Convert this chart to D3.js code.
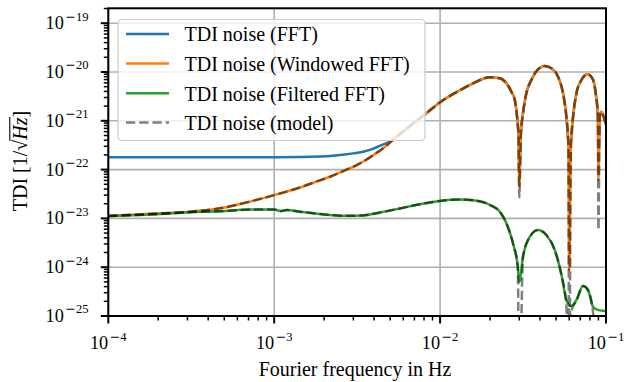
<!DOCTYPE html>
<html><head><meta charset="utf-8">
<script src="https://cdn.jsdelivr.net/npm/d3@7"></script>
<style>body{margin:0;background:#fff} svg{display:block}</style>
</head><body><svg id="c" width="626" height="382"></svg>
<script>
// ---------- data ----------
const freqMain = [1e-4, 2.05e-4, 3.1e-4, 4.7e-4, 7.1e-4, 1e-3, 1.43e-3, 1.88e-3, 2.17e-3, 2.73e-3,
  2.98e-3, 3.42e-3, 3.93e-3, 4.14e-3, 4.75e-3, 4.98e-3, 6.28e-3, 8.28e-3, 9.95e-3, 1.31e-2,
  1.58e-2, 2.0e-2, 2.29e-2, 2.51e-2, 2.69e-2, 2.82e-2, 2.91e-2, 2.97e-2, 3.0e-2, 3.07e-2,
  3.16e-2, 3.31e-2, 3.55e-2, 3.89e-2, 4.27e-2, 4.69e-2, 5.14e-2, 5.51e-2, 5.77e-2, 5.93e-2,
  6.0e-2, 6.15e-2, 6.33e-2, 6.63e-2, 7.11e-2, 7.73e-2, 8.28e-2, 8.67e-2, 8.94e-2, 9.0e-2,
  9.17e-2, 9.38e-2, 9.6e-2, 1e-1];
const fftVals = [1.79e-22, 1.79e-22, 1.79e-22, 1.79e-22, 1.8e-22, 1.8e-22, 1.82e-22, 1.86e-22, 1.9e-22, 2.06e-22,
  2.15e-22, 2.33e-22, 2.65e-22, 2.87e-22, 3.5e-22, 3.75e-22, 6.9e-22, 1.43e-21, 2.37e-21, 4.18e-21,
  5.86e-21, 7.78e-21, 7.43e-21, 5.86e-21, 3.95e-21, 2.67e-21, 1.21e-21, 4.72e-22, 8e-23, 5.5e-22,
  1.43e-21, 3.66e-21, 6.85e-21, 1.13e-20, 1.33e-20, 1.19e-20, 8.0e-21, 3.66e-21, 1.21e-21, 3.6e-22,
  2.5e-22, 3.6e-22, 1.21e-21, 3.66e-21, 6.85e-21, 8.97e-21, 7.4e-21, 3.66e-21, 1.21e-21, 1.5e-22,
  1.21e-21, 1.53e-21, 1.31e-21, 8.2e-22];
const windowedVals = [1.12e-23, 1.27e-23, 1.37e-23, 1.61e-23, 2.2e-23, 3.0e-23, 4.3e-23, 6.0e-23, 7.15e-23, 1.0e-22,
  1.13e-22, 1.45e-22, 1.95e-22, 2.2e-22, 3.1e-22, 3.6e-22, 6.9e-22, 1.43e-21, 2.37e-21, 4.18e-21,
  5.86e-21, 7.78e-21, 7.43e-21, 5.86e-21, 3.95e-21, 2.67e-21, 1.21e-21, 4.72e-22, 4.5e-23, 5.5e-22,
  1.43e-21, 3.66e-21, 6.85e-21, 1.13e-20, 1.33e-20, 1.19e-20, 8.0e-21, 3.66e-21, 1.21e-21, 3.46e-22,
  8.8e-25, 3.46e-22, 1.21e-21, 3.66e-21, 6.85e-21, 8.97e-21, 7.4e-21, 3.66e-21, 1.21e-21, 6.1e-23,
  1.21e-21, 1.53e-21, 1.31e-21, 8.2e-22];
const modelVals = [1.12e-23, 1.27e-23, 1.37e-23, 1.61e-23, 2.2e-23, 3.0e-23, 4.3e-23, 6.0e-23, 7.15e-23, 1.0e-22,
  1.13e-22, 1.45e-22, 1.95e-22, 2.2e-22, 3.1e-22, 3.6e-22, 6.9e-22, 1.43e-21, 2.37e-21, 4.18e-21,
  5.86e-21, 7.78e-21, 7.43e-21, 5.86e-21, 3.95e-21, 2.67e-21, 1.21e-21, 4.72e-22, 2.7e-23, 5.5e-22,
  1.43e-21, 3.66e-21, 6.85e-21, 1.13e-20, 1.33e-20, 1.19e-20, 8.0e-21, 3.66e-21, 1.21e-21, 3.46e-22,
  1e-27, 3.46e-22, 1.21e-21, 3.66e-21, 6.85e-21, 8.97e-21, 7.4e-21, 3.66e-21, 1.21e-21, 5.8e-24,
  1.21e-21, 1.53e-21, 1.31e-21, 8.2e-22];

const freqFilt = [1e-4, 2.05e-4, 3.57e-4, 4.7e-4, 7.1e-4, 1e-3, 1.09e-3, 1.19e-3, 1.43e-3, 1.88e-3,
  2.73e-3, 3.4e-3, 4.34e-3, 5.72e-3, 7.55e-3, 9.95e-3, 1.31e-2, 1.58e-2, 2.0e-2, 2.29e-2,
  2.51e-2, 2.75e-2, 2.94e-2, 3.0e-2, 3.16e-2, 3.39e-2, 3.89e-2, 4.37e-2, 4.91e-2, 5.39e-2,
  5.77e-2, 6.0e-2, 6.19e-2, 6.63e-2, 7.27e-2, 7.8e-2, 8.35e-2, 8.95e-2, 9.0e-2, 9.83e-2, 1e-1];
const filteredVals = [1.12e-23, 1.23e-23, 1.37e-23, 1.4e-23, 1.52e-23, 1.53e-23, 1.41e-23, 1.48e-23, 1.37e-23, 1.23e-23,
  1.13e-23, 1.15e-23, 1.32e-23, 1.6e-23, 1.95e-23, 2.28e-23, 2.44e-23, 2.35e-23, 1.88e-23, 1.37e-23,
  7.94e-24, 3.09e-24, 1.02e-24, 5.0e-25, 1.64e-24, 3.6e-24, 5.8e-24, 4.57e-24, 2.25e-24, 6.9e-25,
  2.13e-25, 1.65e-25, 1.6e-25, 2.13e-25, 4.12e-25, 3.41e-25, 1.55e-25, 1.33e-25, 1.32e-25, 1.27e-25, 1.26e-25];
const modelFiltVals = [1.12e-23, 1.23e-23, 1.37e-23, 1.4e-23, 1.52e-23, 1.53e-23, 1.41e-23, 1.48e-23, 1.37e-23, 1.23e-23,
  1.13e-23, 1.15e-23, 1.32e-23, 1.6e-23, 1.95e-23, 2.28e-23, 2.44e-23, 2.35e-23, 1.88e-23, 1.37e-23,
  7.94e-24, 3.09e-24, 1.02e-24, 1e-27, 1.64e-24, 3.6e-24, 5.8e-24, 4.57e-24, 2.25e-24, 6.9e-25,
  1.6e-25, 1e-27, 1.3e-25, 2.05e-25, 4.12e-25, 3.3e-25, 1.2e-25, 1e-27, 1e-27, 1e-27, 1e-27];

const xTicks = [1e-4, 1e-3, 1e-2, 1e-1];
const xTickExp = ["4", "3", "2", "1"];
const yTicks = [1e-25, 1e-24, 1e-23, 1e-22, 1e-21, 1e-20, 1e-19];
const yTickExp = ["25", "24", "23", "22", "21", "20", "19"];
const legendLabels = ["TDI noise (FFT)", "TDI noise (Windowed FFT)", "TDI noise (Filtered FFT)", "TDI noise (model)"];
const xTitle = "Fourier frequency in Hz";

// ---------- drawing ----------
const svg = d3.select("#c");
const m = {l: 108.3, r: 606, t: 8.3, b: 316};
const x = d3.scaleLog().domain([1e-4, 1e-1]).range([m.l, m.r]);
const y = d3.scaleLog().domain([1e-25, 2.02e-19]).range([m.b, m.t]);
const SERIF = "'Liberation Serif','Times New Roman',serif";
const colors = ["#1f77b4", "#ff7f0e", "#2ca02c"];

svg.append("defs").append("clipPath").attr("id", "clip")
  .append("rect").attr("x", m.l).attr("y", m.t).attr("width", m.r - m.l).attr("height", m.b - m.t);

// grid
const grid = svg.append("g").attr("stroke", "#b0b0b0").attr("stroke-width", 1.6);
xTicks.forEach(t => grid.append("line").attr("x1", x(t)).attr("x2", x(t)).attr("y1", m.t).attr("y2", m.b));
yTicks.forEach(t => grid.append("line").attr("x1", m.l).attr("x2", m.r).attr("y1", y(t)).attr("y2", y(t)));

// lines
const plot = svg.append("g").attr("clip-path", "url(#clip)");
const line = d3.line().x(d => x(d[0])).y(d => y(d[1])).curve(d3.curveMonotoneX);
const zip = (f, v) => f.map((d, i) => [d, v[i]]);
const lw = 2.5;
plot.append("path").attr("d", line(zip(freqMain, fftVals))).attr("fill", "none").attr("stroke", colors[0]).attr("stroke-width", lw);
plot.append("path").attr("d", line(zip(freqMain, windowedVals))).attr("fill", "none").attr("stroke", colors[1]).attr("stroke-width", lw);
plot.append("path").attr("d", line(zip(freqFilt, filteredVals))).attr("fill", "none").attr("stroke", colors[2]).attr("stroke-width", lw);
[zip(freqMain, modelVals), zip(freqFilt, modelFiltVals)].forEach(dat =>
  plot.append("path").attr("d", line(dat)).attr("fill", "none").attr("stroke", "#000").attr("stroke-opacity", 0.5)
    .attr("stroke-width", lw).attr("stroke-dasharray", "9.25,4"));

// spines
svg.append("rect").attr("x", m.l).attr("y", m.t).attr("width", m.r - m.l).attr("height", m.b - m.t)
  .attr("fill", "none").attr("stroke", "#000").attr("stroke-width", 2);

// ticks
const tk = svg.append("g").attr("stroke", "#000");
xTicks.forEach(t => tk.append("line").attr("x1", x(t)).attr("x2", x(t)).attr("y1", m.b).attr("y2", m.b + 7.5).attr("stroke-width", 2));
yTicks.forEach(t => tk.append("line").attr("x1", m.l).attr("x2", m.l - 7.5).attr("y1", y(t)).attr("y2", y(t)).attr("stroke-width", 2));
for (let d = -4; d < -1; d++) for (let k = 2; k <= 9; k++) {
  const v = k * Math.pow(10, d);
  tk.append("line").attr("x1", x(v)).attr("x2", x(v)).attr("y1", m.b).attr("y2", m.b + 4.5).attr("stroke-width", 1.5);
}
for (let d = -25; d <= -19; d++) for (let k = 2; k <= 9; k++) {
  const v = k * Math.pow(10, d);
  if (v > y.domain()[1]) continue;
  tk.append("line").attr("x1", m.l).attr("x2", m.l - 4.5).attr("y1", y(v)).attr("y2", y(v)).attr("stroke-width", 1.5);
}

// tick labels
function powLabel(g, px, py, exp, anchor) {
  const t = g.append("text").attr("x", px).attr("y", py).attr("text-anchor", anchor)
    .attr("font-family", SERIF).attr("font-size", 18.3).attr("fill", "#000");
  t.append("tspan").text("10");
  t.append("tspan").attr("dy", -8.6).attr("dx", 1.5).attr("font-size", 12.6).attr("font-family", "'DejaVu Sans',sans-serif").text("\u2212");
  t.append("tspan").attr("font-size", 12.6).text(exp);
}
const lab = svg.append("g");
xTicks.forEach((t, i) => powLabel(lab, x(t), 349.3, xTickExp[i], "middle"));
yTicks.forEach((t, i) => powLabel(lab, 88.5, y(t) + 6, yTickExp[i], "end"));

// axis titles
svg.append("text").attr("x", 355).attr("y", 376).attr("text-anchor", "middle")
  .attr("font-family", SERIF).attr("font-size", 20).text(xTitle);
const yl = svg.append("g").attr("transform", "translate(27,161) rotate(-90)");
const ylt = yl.append("text").attr("text-anchor", "middle").attr("font-family", SERIF).attr("font-size", 20);
ylt.append("tspan").text("TDI [1/");
ylt.append("tspan").text("\u221A");
ylt.append("tspan").attr("font-style", "italic").text("Hz");
ylt.append("tspan").text("]");
const node = ylt.node();
const e7 = node.getExtentOfChar(7), e9 = node.getExtentOfChar(9);
yl.append("line").attr("x1", e7.x + e7.width - 1).attr("x2", e9.x + e9.width + 0.5)
  .attr("y1", e7.y + 0.8).attr("y2", e7.y + 0.8).attr("stroke", "#000").attr("stroke-width", 1.1);

// legend
const lg = svg.append("g");
lg.append("rect").attr("x", 118).attr("y", 19.5).attr("width", 307).attr("height", 121).attr("rx", 4)
  .attr("fill", "#fff").attr("fill-opacity", 0.8).attr("stroke", "#cccccc").attr("stroke-width", 1.2);
const rowY = [34, 63.6, 93.2, 122.6];
legendLabels.forEach((s, i) => {
  const ln = lg.append("line").attr("x1", 126).attr("x2", 169).attr("y1", rowY[i]).attr("y2", rowY[i]).attr("stroke-width", lw);
  if (i < 3) ln.attr("stroke", colors[i]);
  else ln.attr("stroke", "#000").attr("stroke-opacity", 0.5).attr("stroke-dasharray", "9.25,4");
  lg.append("text").attr("x", 184.5).attr("y", rowY[i] + 7.3).attr("font-family", SERIF).attr("font-size", 20).text(s);
});
</script></body></html>
